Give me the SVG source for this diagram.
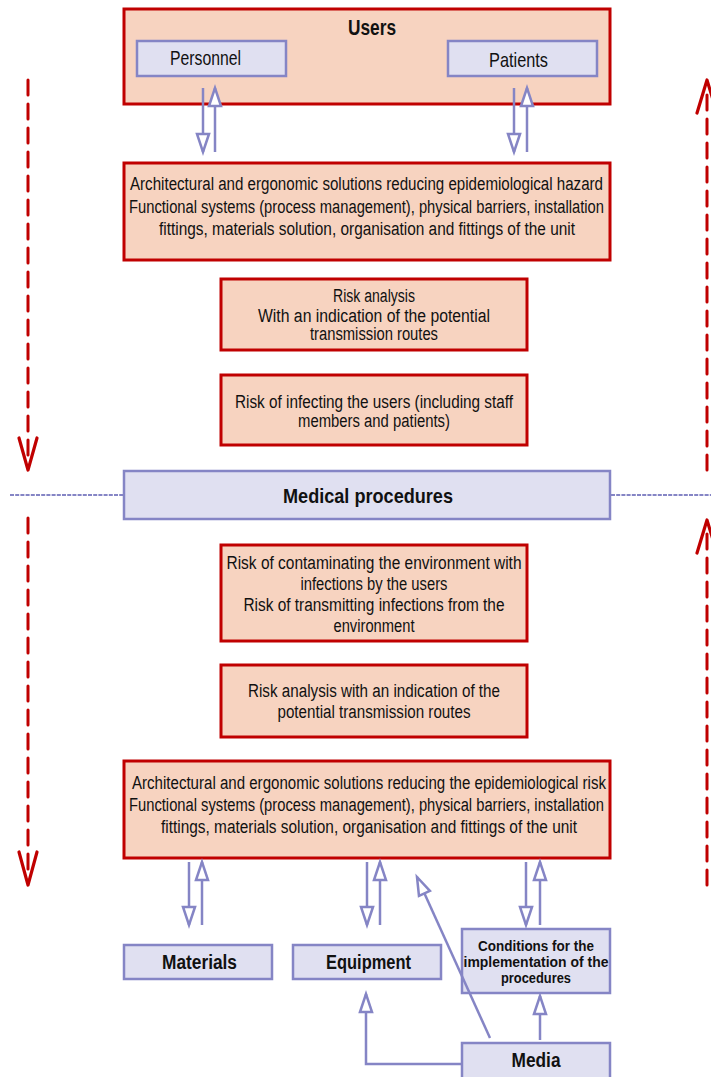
<svg xmlns="http://www.w3.org/2000/svg" width="711" height="1077" viewBox="0 0 711 1077">
<style>
.red{fill:#F7D3C0;stroke:#C00000;stroke-width:3}
.lav{fill:#E0E0F1;stroke:#8585C5;stroke-width:2.5}
.t{font-family:"Liberation Sans",Arial,sans-serif;font-size:18px;fill:#111;text-anchor:middle}
.b{font-weight:bold}
.s22{font-size:22px}
.s21{font-size:21px}
.s20{font-size:20px}
.s15{font-size:15.5px}
.con{stroke:#8585C5;stroke-width:2.5;fill:none}
.hd{stroke:#8585C5;stroke-width:2.2;fill:none;stroke-dasharray:4 1.2}
.rd{stroke:#C00000;stroke-width:3;fill:none;stroke-dasharray:15 9;stroke-linecap:round}
.rh{stroke:#C00000;stroke-width:3.2;fill:none;stroke-linecap:round;stroke-linejoin:round}
</style>
<defs>
<marker id="ah" markerUnits="userSpaceOnUse" markerWidth="22" markerHeight="16" refX="19" refY="7" orient="auto" overflow="visible">
<path d="M1,1 L19,7 L1,13 Z" fill="#fff" stroke="#8585C5" stroke-width="2.5" stroke-linejoin="miter"/>
</marker>
</defs>

<g id="users">
<rect class="red" x="124" y="9" width="486" height="95"/>
<text class="t b s22" x="372" y="35" textLength="48" lengthAdjust="spacingAndGlyphs">Users</text>
</g>
<g id="personnel">
<rect class="lav" x="137" y="41" width="149" height="35"/>
<text class="t s21" x="205.5" y="65" textLength="71" lengthAdjust="spacingAndGlyphs">Personnel</text>
</g>
<g id="patients">
<rect class="lav" x="448" y="41" width="149" height="35"/>
<text class="t s21" x="518.5" y="67" textLength="59" lengthAdjust="spacingAndGlyphs">Patients</text>
</g>

<g id="solutions-hazard">
<rect class="red" x="124" y="163" width="486" height="97"/>
<text class="t" x="366.5" y="190" textLength="473" lengthAdjust="spacingAndGlyphs">Architectural and ergonomic solutions reducing epidemiological hazard</text>
<text class="t" x="366.5" y="213" textLength="475" lengthAdjust="spacingAndGlyphs">Functional systems (process management), physical barriers, installation</text>
<text class="t" x="367" y="235" textLength="416" lengthAdjust="spacingAndGlyphs">fittings, materials solution, organisation and fittings of the unit</text>
</g>

<g id="risk-analysis-1">
<rect class="red" x="221" y="279" width="306" height="71"/>
<text class="t" x="374" y="302" textLength="82" lengthAdjust="spacingAndGlyphs">Risk analysis</text>
<text class="t" x="374" y="322" textLength="232" lengthAdjust="spacingAndGlyphs">With an indication of the potential</text>
<text class="t" x="374" y="340" textLength="128" lengthAdjust="spacingAndGlyphs">transmission routes</text>
</g>

<g id="risk-infecting">
<rect class="red" x="221" y="375" width="306" height="70"/>
<text class="t" x="374" y="408" textLength="278" lengthAdjust="spacingAndGlyphs">Risk of infecting the users (including staff</text>
<text class="t" x="374" y="427" textLength="152" lengthAdjust="spacingAndGlyphs">members and patients)</text>
</g>

<g id="medical-procedures">
<rect class="lav" x="124" y="471" width="486" height="48"/>
<text class="t b s21" x="368" y="503" textLength="170" lengthAdjust="spacingAndGlyphs">Medical procedures</text>
</g>

<g id="risk-contaminating">
<rect class="red" x="221" y="545" width="306" height="96"/>
<text class="t" x="374" y="569" textLength="295" lengthAdjust="spacingAndGlyphs">Risk of contaminating the environment with</text>
<text class="t" x="374" y="590" textLength="147" lengthAdjust="spacingAndGlyphs">infections by the users</text>
<text class="t" x="374" y="611" textLength="261" lengthAdjust="spacingAndGlyphs">Risk of transmitting infections from the</text>
<text class="t" x="374" y="632" textLength="81" lengthAdjust="spacingAndGlyphs">environment</text>
</g>

<g id="risk-analysis-2">
<rect class="red" x="221" y="665" width="306" height="72"/>
<text class="t" x="374" y="697" textLength="252" lengthAdjust="spacingAndGlyphs">Risk analysis with an indication of the</text>
<text class="t" x="374" y="718" textLength="193" lengthAdjust="spacingAndGlyphs">potential transmission routes</text>
</g>

<g id="solutions-risk">
<rect class="red" x="124" y="761" width="486" height="97"/>
<text class="t" x="369" y="789" textLength="474" lengthAdjust="spacingAndGlyphs">Architectural and ergonomic solutions reducing the epidemiological risk</text>
<text class="t" x="366.5" y="811" textLength="475" lengthAdjust="spacingAndGlyphs">Functional systems (process management), physical barriers, installation</text>
<text class="t" x="369" y="833" textLength="416" lengthAdjust="spacingAndGlyphs">fittings, materials solution, organisation and fittings of the unit</text>
</g>

<g id="materials">
<rect class="lav" x="124" y="945" width="148" height="34"/>
<text class="t b s20" x="199.5" y="969" textLength="75" lengthAdjust="spacingAndGlyphs">Materials</text>
</g>
<g id="equipment">
<rect class="lav" x="293" y="945" width="148" height="34"/>
<text class="t b s20" x="368.5" y="969" textLength="85" lengthAdjust="spacingAndGlyphs">Equipment</text>
</g>
<g id="conditions">
<rect class="lav" x="462" y="929" width="148" height="64"/>
<text class="t b s15" x="536" y="951" textLength="116" lengthAdjust="spacingAndGlyphs">Conditions for the</text>
<text class="t b s15" x="536" y="967" textLength="145" lengthAdjust="spacingAndGlyphs">implementation of the</text>
<text class="t b s15" x="536" y="983" textLength="70" lengthAdjust="spacingAndGlyphs">procedures</text>
</g>
<g id="media">
<rect class="lav" x="462" y="1043" width="148" height="36"/>
<text class="t b s21" x="536" y="1067" textLength="49" lengthAdjust="spacingAndGlyphs">Media</text>
</g>

<g id="connectors">
<path class="hd" d="M10,495 H123"/>
<path class="hd" d="M611,495 H711"/>
<path class="rd" d="M28,80 V462"/>
<path class="rh" d="M19,438 L28,470 L37,438"/>
<path class="rd" d="M28,518 V878"/>
<path class="rh" d="M19,852 L28,885 L37,852"/>
<path class="rd" d="M707,470 V88"/>
<path class="rh" d="M697,113 L707,80 L717,113"/>
<path class="rd" d="M707,885 V528"/>
<path class="rh" d="M697,553 L707,520 L717,553"/>
<path class="con" d="M203,88 V152" marker-end="url(#ah)"/>
<path class="con" d="M215,152 V88" marker-end="url(#ah)"/>
<path class="con" d="M514,88 V152" marker-end="url(#ah)"/>
<path class="con" d="M527,152 V88" marker-end="url(#ah)"/>
<path class="con" d="M189,862 V925" marker-end="url(#ah)"/>
<path class="con" d="M202,925 V862" marker-end="url(#ah)"/>
<path class="con" d="M367,862 V925" marker-end="url(#ah)"/>
<path class="con" d="M380,925 V862" marker-end="url(#ah)"/>
<path class="con" d="M526,862 V925" marker-end="url(#ah)"/>
<path class="con" d="M540,925 V862" marker-end="url(#ah)"/>
<path class="con" d="M461,1064 H366 V994" marker-end="url(#ah)"/>
<path class="con" d="M540,1040 V996" marker-end="url(#ah)"/>
<path class="con" d="M490,1038 L417,877" marker-end="url(#ah)"/>
</g>
</svg>
